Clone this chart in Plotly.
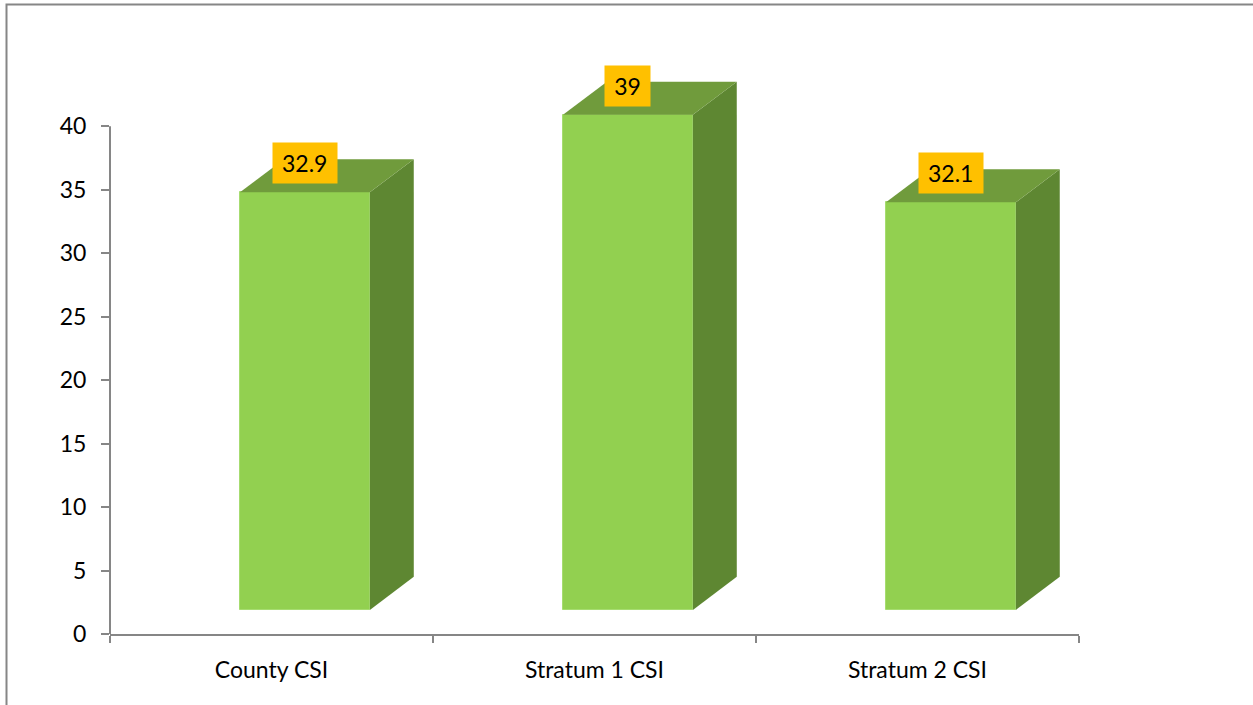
import plotly.graph_objects as go

# Chart data
categories = ["County CSI", "Stratum 1 CSI", "Stratum 2 CSI"]
csi_values = [32.9, 39, 32.1]
y_ticks = [0, 5, 10, 15, 20, 25, 30, 35, 40]

# 3D-look geometry (axis units)
BASE = 1.9        # front face is lifted off the floor
BAR_OFFSET = -0.0975
BAR_WIDTH = 0.402
DEPTH_X = 0.136
DEPTH_Y = 2.6
Y_MAX = 46        # headroom so the tallest bar and its label are not clipped
Y_AXIS_TOP = 40

FRONT = "#92D050"
SIDE = "#5E8732"
TOP = "#709B3C"
AXIS = "#868686"
FONT = "Lato"

PLOT_L, PLOT_R, PLOT_T, PLOT_B = 110, 174, 50, 71
W, H = 1253, 705
plot_w = W - PLOT_L - PLOT_R
plot_h = H - PLOT_T - PLOT_B

fig = go.Figure()

positions = list(range(len(categories)))

# Front faces
fig.add_trace(go.Bar(
    x=positions, y=csi_values, base=BASE,
    width=BAR_WIDTH, offset=BAR_OFFSET,
    marker=dict(color=FRONT, line=dict(color="#A6DC70", width=1)),
    hoverinfo="skip", showlegend=False, cliponaxis=False,
))

# Side and top faces, plus value labels
for xi, v in zip(positions, csi_values):
    xl = xi + BAR_OFFSET
    xr = xl + BAR_WIDTH
    top = BASE + v
    fig.add_trace(go.Scatter(
        x=[xr, xr + DEPTH_X, xr + DEPTH_X, xr, xr],
        y=[BASE, BASE + DEPTH_Y, top + DEPTH_Y, top, BASE],
        mode="lines", fill="toself", fillcolor=SIDE,
        line=dict(width=0, color=SIDE),
        hoverinfo="skip", showlegend=False,
    ))
    fig.add_trace(go.Scatter(
        x=[xl, xl + DEPTH_X, xr + DEPTH_X, xr, xl],
        y=[top, top + DEPTH_Y, top + DEPTH_Y, top, top],
        mode="lines", fill="toself", fillcolor=TOP,
        line=dict(width=0, color=TOP),
        hoverinfo="skip", showlegend=False,
    ))
    label = f"{v:g}"
    n_digits = sum(c.isdigit() for c in label)
    n_other = len(label) - n_digits
    fig.add_annotation(
        x=xl + BAR_WIDTH / 2, y=top, yanchor="bottom", yshift=8,
        text=label, showarrow=False,
        bgcolor="#FFC000", borderpad=4,
        width=12.5 * n_digits + 6 * n_other + 12, height=32,
        font=dict(family=FONT, size=23, color="#000000"),
    )

# Vertical axis line, stopping at the top tick
fig.add_shape(
    type="line", xref="paper", yref="y",
    x0=0, x1=0, y0=0, y1=Y_AXIS_TOP,
    line=dict(color=AXIS, width=2),
)

# Outer frame
fig.add_shape(
    type="rect", xref="paper", yref="paper",
    x0=(6.5 - PLOT_L) / plot_w, x1=1.3,
    y0=-0.3, y1=(H - PLOT_B - 4.5) / plot_h,
    line=dict(color=AXIS, width=2), layer="below",
)

fig.update_layout(
    width=W, height=H,
    margin=dict(l=PLOT_L, r=PLOT_R, t=PLOT_T, b=PLOT_B),
    paper_bgcolor="white", plot_bgcolor="white",
    font=dict(family=FONT, size=23, color="#000000"),
    bargap=0,
    xaxis=dict(
        range=[-0.5, 2.5], tickmode="array", tickvals=positions, ticktext=categories,
        ticks="outside", ticklen=0, showgrid=False, zeroline=False,
        showline=True, linecolor=AXIS, linewidth=2,
        minor=dict(ticks="outside", tick0=-0.5, dtick=1, ticklen=7,
                   tickcolor=AXIS, tickwidth=2, showgrid=False),
        ticklabelstandoff=14,
        fixedrange=True,
    ),
    yaxis=dict(
        range=[0, Y_MAX], tickmode="array", tickvals=y_ticks,
        ticks="outside", ticklen=8, tickcolor=AXIS, tickwidth=2,
        showline=False, showgrid=False, zeroline=False,
        ticklabelstandoff=10,
        fixedrange=True,
    ),
)

fig.write_html("out.html")
